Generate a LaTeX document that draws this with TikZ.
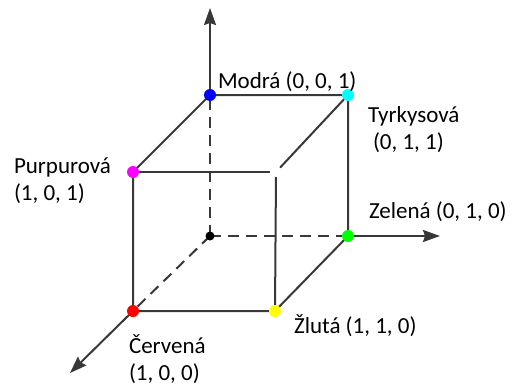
\documentclass[tikz,border=0pt]{standalone}
\usepackage{fontspec}
\setmainfont{Carlito}
\usetikzlibrary{arrows.meta}
\definecolor{cubegray}{HTML}{383838}
\definecolor{rgbcyan}{HTML}{00FFFF}
\definecolor{rgbmagenta}{HTML}{FF00FF}
\definecolor{rgbgreen}{HTML}{00FF00}
\definecolor{rgbblue}{HTML}{0000FF}
\definecolor{rgbred}{HTML}{FF0000}
\definecolor{rgbyellow}{HTML}{FFFF00}
\tikzset{
  dot/.style={circle, inner sep=0pt, minimum size=12pt},
  colname/.style={anchor=base west, inner sep=0pt, align=left, font=\fontsize{23}{27}\selectfont},
  hidden/.style={dash pattern=on 11pt off 7pt},
}
\begin{document}
\begin{tikzpicture}[x=1pt, y=1pt, >={Stealth[length=17pt, width=12pt, inset=2pt]}, line width=2pt, draw=cubegray]
    \useasboundingbox (0, 0) rectangle (513, 389);
    % Corners of the cube
    \coordinate (O) at (210, 153);
    \coordinate (B) at (210, 294);
    \coordinate (C) at (348, 294);
    \coordinate (G) at (348, 153);
    \coordinate (M) at (133, 217);
    \coordinate (R) at (133, 78);
    \coordinate (Y) at (275, 78);
    \coordinate (W) at (276, 217);
    % Axis ends
    \coordinate (zend) at (210, 381);
    \coordinate (yend) at (440, 153);
    \coordinate (xend) at (70, 16);

    % Axes, hidden part dashed
    \draw[hidden] (O) -- (B);
    \draw[hidden] (O) -- (G);
    \draw[hidden] (O) -- (R);
    \draw[->] (B) -- (zend);
    \draw[->] (G) -- (yend);
    \draw[->] (R) -- (xend);

    % Cube edges
    \draw (M) -- (B) -- (C) -- (G) -- (Y) -- (R) -- (M);
    \draw[shorten >=6pt] (M) -- (W);
    \draw[shorten >=5pt] (Y) -- (W);
    \draw[shorten >=6pt] (C) -- (W);

    % Colour dots
    \node[dot, fill=black, minimum size=9pt] (Odot) at (O) {};
    \node[dot, fill=rgbblue] (Bdot) at (B) {};
    \node[dot, fill=rgbcyan] (Cdot) at (C) {};
    \node[dot, fill=rgbgreen] (Gdot) at (G) {};
    \node[dot, fill=rgbmagenta] (Mdot) at (M) {};
    \node[dot, fill=rgbred] (Rdot) at (R) {};
    \node[dot, fill=rgbyellow] (Ydot) at (Y) {};

    % Names (base = last line)
    \node[colname] (Bname) at (217, 301) {Modrá (0, 0, 1)};
    \node[colname] (Cname) at (367, 240) {Tyrkysová\\\hspace*{5pt}(0, 1, 1)};
    \node[colname] (Mname) at (13, 189) {Purpurová\\(1, 0, 1)};
    \node[colname] (Gname) at (368, 171) {Zelená (0, 1, 0)};
    \node[colname] (Yname) at (293, 56) {Žlutá (1, 1, 0)};
    \node[colname] (Rname) at (128, 9) {Červená\\(1, 0, 0)};
\end{tikzpicture}
\end{document}
